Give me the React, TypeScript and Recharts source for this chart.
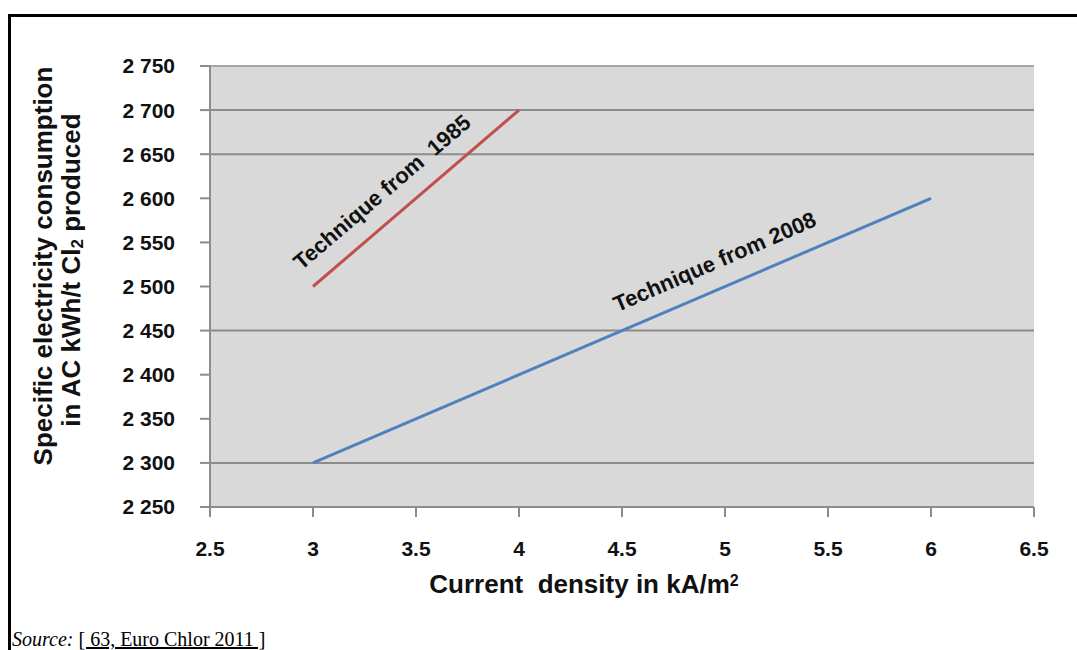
import React from 'react';
import { LineChart, Line, XAxis, YAxis, ReferenceArea, ReferenceLine, ReferenceDot, Label } from 'recharts';

const xTicks = [2.5, 3, 3.5, 4, 4.5, 5, 5.5, 6, 6.5];
const yTicks = [2250, 2300, 2350, 2400, 2450, 2500, 2550, 2600, 2650, 2700, 2750];
const gridValues = [2700, 2650, 2450, 2300];

const tech1985 = [
  { x: 3, y: 2500 },
  { x: 4, y: 2700 },
];
const tech2008 = [
  { x: 3, y: 2300 },
  { x: 6, y: 2600 },
];

const label1985 = { x: 3.335, y: 2607, text: 'Technique from\u00a0\u00a01985', angle: -40.5 };
const label2008 = { x: 4.95, y: 2528, text: 'Technique from 2008', angle: -23.5 };

const FONT = 'Arial, "Liberation Sans", Helvetica, sans-serif';
const AXIS = '#8c8c8c';

const fmtY = (v: number) => {
  const s = String(v);
  return s.slice(0, 1) + ' ' + s.slice(1);
};

const RotLabel = (text: string, angle: number) => (props: any) => {
  const vb = props.viewBox || {};
  const cx = (vb.x || 0) + (vb.width || 0) / 2;
  const cy = (vb.y || 0) + (vb.height || 0) / 2;
  return (
    <text
      x={cx}
      y={cy}
      textAnchor="middle"
      dominantBaseline="central"
      transform={`rotate(${angle}, ${cx}, ${cy})`}
      style={{ fontFamily: FONT, fontWeight: 700, fontSize: 22, fill: '#111' }}
    >
      {text}
    </text>
  );
};

const YTitle = (props: any) => {
  const cy1 = 266;
  const cy2 = 270;
  return (
    <g style={{ fontFamily: FONT, fontWeight: 700, fontSize: 26, fill: '#111' }}>
      <text x={43} y={cy1} textAnchor="middle" dominantBaseline="central" transform={`rotate(-90, 43, ${cy1})`}>
        Specific electricity consumption
      </text>
      <text x={71} y={cy2} textAnchor="middle" dominantBaseline="central" transform={`rotate(-90, 71, ${cy2})`}>
        in AC kWh/t Cl<tspan fontSize={17} dy={6}>2</tspan><tspan dy={-6}> produced</tspan>
      </text>
    </g>
  );
};

const XTitle = (props: any) => {
  return (
    <text x={584} y={593} textAnchor="middle" style={{ fontFamily: FONT, fontWeight: 700, fontSize: 26, fill: '#111' }}>
      {'Current\u00a0\u00a0density in kA/m'}<tspan fontSize={16} dy={-7}>2</tspan>
    </text>
  );
};

export default function App() {
  return (
    <div style={{ position: 'absolute', left: 0, top: 0, width: 1077, height: 650, overflow: 'hidden', background: '#fff' }}>
      <div style={{ position: 'absolute', left: 8, top: 14, width: 1200, height: 700, borderLeft: '3px solid #000', borderTop: '3px solid #000' }} />
      <div style={{ position: 'absolute', left: 0, top: 0 }}>
        <LineChart width={1077} height={650} margin={{ top: 66, right: 43, bottom: 103, left: 100 }}>
          <ReferenceArea x1={2.5} x2={6.5} y1={2250} y2={2750} fill="#d9d9d9" fillOpacity={1} stroke="none" ifOverflow="extendDomain" />
          <ReferenceLine y={2750} stroke="#a6a6a6" strokeWidth={2} />
          {gridValues.map((v) => (
            <ReferenceLine key={v} y={v} stroke={AXIS} strokeWidth={2} />
          ))}
          <XAxis
            type="number"
            dataKey="x"
            domain={[2.5, 6.5]}
            ticks={xTicks}
            allowDataOverflow
            height={40}
            tickSize={10}
            tickMargin={24}
            stroke={AXIS}
            strokeWidth={2}
            tick={{ fontFamily: FONT, fontWeight: 700, fontSize: 21, fill: '#111' }}
          >
            <Label content={XTitle} />
          </XAxis>
          <YAxis
            type="number"
            dataKey="y"
            domain={[2250, 2750]}
            ticks={yTicks}
            allowDataOverflow
            width={110}
            tickSize={10}
            tickMargin={25}
            stroke={AXIS}
            strokeWidth={2}
            tickFormatter={fmtY}
            tick={{ fontFamily: FONT, fontWeight: 700, fontSize: 21, fill: '#111' }}
          >
            <Label content={YTitle} />
          </YAxis>
          <Line data={tech1985} dataKey="y" stroke="#c0504d" strokeWidth={3} dot={false} isAnimationActive={false} />
          <Line data={tech2008} dataKey="y" stroke="#4f81bd" strokeWidth={3} dot={false} isAnimationActive={false} />
          <ReferenceDot x={label1985.x} y={label1985.y} r={1} fill="none" stroke="none" label={{ content: RotLabel(label1985.text, label1985.angle) } as any} />
          <ReferenceDot x={label2008.x} y={label2008.y} r={1} fill="none" stroke="none" label={{ content: RotLabel(label2008.text, label2008.angle) } as any} />
        </LineChart>
      </div>
      <svg width={400} height={30} style={{ position: 'absolute', left: 0, top: 620 }}>
        <text x={12} y={26} style={{ fontFamily: '"Liberation Serif", "Times New Roman", serif', fontSize: 20, fill: '#000' }}>
          <tspan fontStyle="italic">Source:</tspan>
          <tspan> </tspan>
          <tspan textDecoration="underline" style={{ textDecoration: 'underline' }}>[ 63, Euro Chlor 2011 ]</tspan>
        </text>
      </svg>
    </div>
  );
}
